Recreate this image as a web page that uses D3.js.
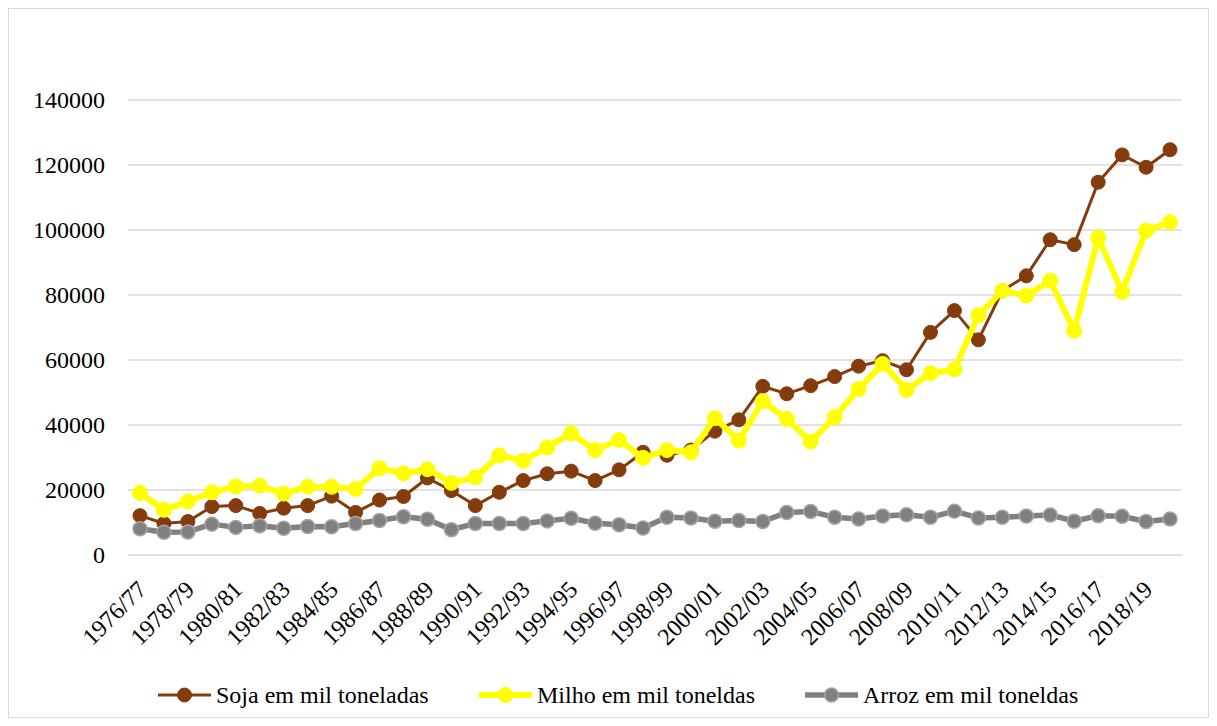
<!DOCTYPE html>
<html>
<head>
<meta charset="utf-8">
<script src="https://cdn.jsdelivr.net/npm/d3@7"></script>
<style>
  html, body { margin: 0; padding: 0; background: #fff; }
  svg { display: block; }
  svg text { font-family: "Times New Roman", "Liberation Serif", Times, serif; }
</style>
</head>
<body>
<svg id="chart" width="1217" height="726"></svg>
<script>
const categories = [
  "1976/77","1977/78","1978/79","1979/80","1980/81","1981/82","1982/83","1983/84","1984/85","1985/86",
  "1986/87","1987/88","1988/89","1989/90","1990/91","1991/92","1992/93","1993/94","1994/95","1995/96",
  "1996/97","1997/98","1998/99","1999/00","2000/01","2001/02","2002/03","2003/04","2004/05","2005/06",
  "2006/07","2007/08","2008/09","2009/10","2010/11","2011/12","2012/13","2013/14","2014/15","2015/16",
  "2016/17","2017/18","2018/19","2019/20"
];
const soja = [
  12100, 9700, 10300, 14900, 15200, 12800, 14400, 15200, 18100, 13100,
  16900, 18000, 23700, 19800, 15200, 19300, 22900, 25000, 25800, 22900,
  26200, 31600, 30700, 32300, 38100, 41600, 51900, 49600, 52100, 54900,
  58100, 59800, 57000, 68500, 75200, 66200, 81300, 85900, 97000, 95500,
  114700, 123100, 119300, 124700
];
const milho = [
  19100, 13900, 16500, 19300, 21100, 21300, 18900, 21000, 21000, 20300,
  26700, 25100, 26400, 22200, 23900, 30600, 29000, 33100, 37400, 32300,
  35400, 29900, 32300, 31600, 42100, 35200, 47300, 41900, 34900, 42400,
  51100, 58800, 50800, 55900, 57100, 73800, 81300, 79800, 84400, 69000,
  97700, 81000, 99800, 102400
];
const arroz = [
  8100, 7000, 7100, 9500, 8500, 9000, 8200, 8800, 8700, 9700,
  10600, 11800, 11000, 7800, 9700, 9700, 9700, 10500, 11300, 9800,
  9300, 8300, 11600, 11400, 10400, 10600, 10300, 13100, 13400, 11600,
  11100, 12000, 12400, 11600, 13500, 11400, 11600, 12000, 12300, 10400,
  12100, 11900, 10300, 11100
];
const seriesNames = ["Soja em mil toneladas", "Milho em mil toneldas", "Arroz em mil toneldas"];
const yTicks = [0, 20000, 40000, 60000, 80000, 100000, 120000, 140000];
const xTickLabels = categories.filter((d, i) => i % 2 === 0);

const FONT = "'Times New Roman', 'Liberation Serif', Times, serif";
const svg = d3.select("#chart");
const W = 1217, H = 726;

// outer chart border
svg.append("rect").attr("x", 8.5).attr("y", 8.5).attr("width", W - 17).attr("height", H - 17)
  .attr("fill", "#fff").attr("stroke", "#d9d9d9").attr("stroke-width", 1);

const x = d3.scaleBand().domain(categories).range([128, 1182]).padding(0);
const y = d3.scaleLinear().domain([0, 140000]).range([555, 100]);
const cx = d => x(d) + x.bandwidth() / 2;

// gridlines
svg.append("g").selectAll("line").data(yTicks).join("line")
  .attr("x1", 128).attr("x2", 1182)
  .attr("y1", d => y(d)).attr("y2", d => y(d))
  .attr("stroke", "#d9d9d9").attr("stroke-width", 1.5);

// y axis labels
const yAxis = d3.axisLeft(y).tickValues(yTicks).tickSize(0).tickPadding(0).tickFormat(d3.format("d"));
const gy = svg.append("g").attr("transform", "translate(105,0)").call(yAxis)
  .attr("font-family", FONT).attr("font-size", 24);
gy.select(".domain").remove();
gy.selectAll("text").attr("fill", "#000").style("font-family", FONT).style("font-size", "24px");

// x axis labels
const xAxis = d3.axisBottom(x).tickValues(xTickLabels).tickSize(0).tickPadding(0);
const gx = svg.append("g").attr("transform", "translate(0,555)").call(xAxis)
  .attr("font-family", FONT).attr("font-size", 24);
gx.select(".domain").remove();
gx.selectAll("text")
  .attr("fill", "#000").style("font-family", FONT).style("font-size", "24px")
  .attr("text-anchor", "end")
  .attr("transform", "translate(-4,24) rotate(-45)")
  .attr("dy", "0.7em").attr("y", 0).attr("x", 0);

const series = [
  { name: seriesNames[0], values: soja, color: "#843C0C", width: 3, r: 7, stroke: "#843C0C", sw: 1 },
  { name: seriesNames[1], values: milho, color: "#FFFF00", width: 6, r: 7.5, stroke: "#FFFF00", sw: 1 },
  { name: seriesNames[2], values: arroz, color: "#808080", width: 5.5, r: 7, stroke: "#A5A5A5", sw: 1.5 }
];

const line = d3.line().x((d, i) => cx(categories[i])).y(d => y(d));

series.forEach(s => {
  const g = svg.append("g");
  g.append("path").datum(s.values).attr("d", line)
    .attr("fill", "none").attr("stroke", s.color).attr("stroke-width", s.width)
    .attr("stroke-linejoin", "round").attr("stroke-linecap", "round");
  g.selectAll("circle").data(s.values).join("circle")
    .attr("cx", (d, i) => cx(categories[i])).attr("cy", d => y(d)).attr("r", s.r)
    .attr("fill", s.color).attr("stroke", s.stroke).attr("stroke-width", s.sw);
});

// legend
const legendX = [158, 479, 805];
const legendY = 695;
series.forEach((s, i) => {
  const g = svg.append("g").attr("transform", `translate(${legendX[i]},${legendY})`);
  g.append("line").attr("x1", 0).attr("x2", 53).attr("y1", 0).attr("y2", 0)
    .attr("stroke", s.color).attr("stroke-width", s.width);
  g.append("circle").attr("cx", 26.5).attr("cy", 0).attr("r", s.r)
    .attr("fill", s.color).attr("stroke", s.stroke).attr("stroke-width", s.sw);
  g.append("text").attr("x", 58).attr("y", 0).attr("dy", "0.33em")
    .style("font-family", FONT).style("font-size", "24px").attr("fill", "#000").text(s.name);
});
</script>
</body>
</html>
